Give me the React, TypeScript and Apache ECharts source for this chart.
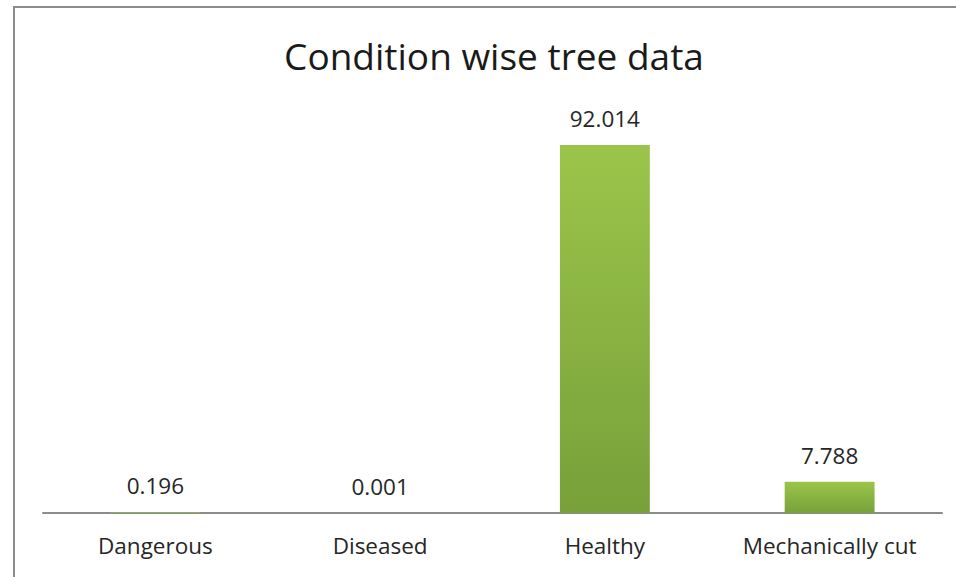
import React, { useEffect, useRef } from "react";
import * as echarts from "echarts";

const categories = ["Dangerous", "Diseased", "Healthy", "Mechanically cut"];
const values = [0.196, 0.001, 92.014, 7.788];
const labelTexts = ["0.196", "0.001", "92.014", "7.788"];
const titleText = "Condition wise tree data";

const FONT = "Open Sans";

export default function App() {
  const ref = useRef<HTMLDivElement>(null);
  useEffect(() => {
    if (!ref.current) return;
    const chart = echarts.init(ref.current, undefined, { renderer: "svg" });
    chart.setOption({
      animation: false,
      backgroundColor: "#ffffff",
      textStyle: { fontFamily: FONT },
      title: {
        text: titleText,
        left: 489,
        textAlign: "center",
        top: 32,
        textStyle: { fontFamily: FONT, fontSize: 37, fontWeight: "normal", color: "#1a1a1a" },
      },
      graphic: [
        {
          type: "rect",
          shape: { x: 14, y: 7, width: 1000, height: 1000 },
          style: { fill: "none", stroke: "#8c8c8c", lineWidth: 2 },
          silent: true,
        },
      ],
      grid: { left: 43, right: 14, top: 113, bottom: 64 },
      xAxis: {
        type: "category",
        data: categories,
        axisLine: { show: true, lineStyle: { color: "#8c8c8c", width: 2 } },
        axisTick: { show: false },
        axisLabel: {
          color: "#262626",
          fontSize: 22.5,
          fontFamily: FONT,
          margin: 21,
          interval: 0,
          hideOverlap: false,
        },
      },
      yAxis: {
        type: "value",
        min: 0,
        max: 100,
        show: false,
        splitLine: { show: false },
      },
      series: [
        {
          type: "bar",
          data: values.map((v, i) => ({ value: v, label: { formatter: labelTexts[i] } })),
          barWidth: "40%",
          itemStyle: {
            color: new echarts.graphic.LinearGradient(0, 0, 0, 1, [
              { offset: 0, color: "#9bc54a" },
              { offset: 1, color: "#77a03a" },
            ]),
          },
          label: {
            show: true,
            position: "top",
            distance: 15,
            color: "#262626",
            fontSize: 22.5,
            fontFamily: FONT,
          },
        },
      ],
    });
    return () => chart.dispose();
  }, []);
  return (
    <div
      ref={ref}
      style={{ position: "fixed", left: 0, top: 0, width: 956, height: 577 }}
    />
  );
}
